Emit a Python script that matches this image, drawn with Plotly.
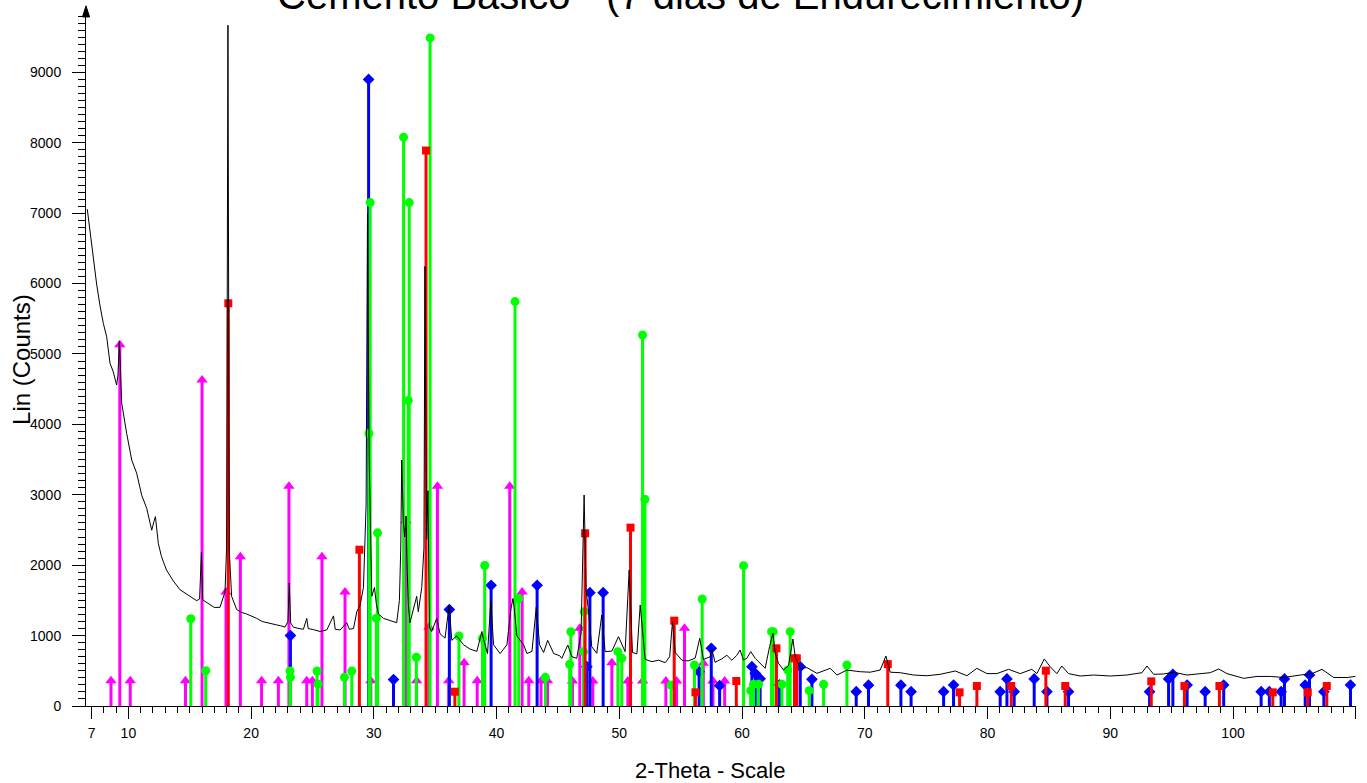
import plotly.graph_objects as go

# ---------------- measured scan (2-theta, counts) ----------------
scan_x = [6.65, 6.87, 7.0, 7.14, 7.41, 7.69, 7.96, 8.23, 8.5, 8.77, 9.04, 9.15, 9.26, 9.35, 9.45,
          9.86, 10.27, 10.67, 11.08, 11.49, 11.9, 12.08, 12.2, 12.44, 12.7, 13.1, 13.66, 14.2, 14.6,
          15.02, 15.56, 15.8, 15.95, 16.05, 16.16, 16.65, 17.0, 17.46, 17.87, 18.0, 18.11, 18.22,
          18.41, 18.82, 19.2, 19.63, 20.0, 20.45, 20.9, 21.26, 21.7, 22.08, 22.4, 22.76, 23.0, 23.11,
          23.22, 23.44, 23.9, 24.26, 24.53, 24.65, 25.07, 25.62, 26.16, 26.71, 26.85, 27.25, 27.79,
          28.0, 28.34, 28.61, 28.88, 29.15, 29.37, 29.48, 29.62, 29.83, 30.05, 30.2, 30.37, 30.78,
          31.32, 31.86, 32.08, 32.19, 32.27, 32.4, 32.51, 32.62, 32.72, 32.81, 32.94, 33.22, 33.49,
          33.62, 33.9, 34.08, 34.16, 34.3, 34.41, 34.52, 34.71, 35.12, 35.39, 35.8, 36.13, 36.35,
          36.75, 37.3, 37.84, 38.39, 38.8, 38.93, 39.26, 39.53, 39.75, 40.29, 40.84, 41.16, 41.33,
          41.43, 41.65, 41.92, 42.2, 42.47, 42.88, 43.23, 43.5, 43.83, 44.16, 44.65, 45.14, 45.31,
          45.8, 46.13, 46.53, 46.88, 47.13, 47.29, 47.48, 47.75, 48.16, 48.57, 48.84, 49.39, 49.93,
          50.47, 50.8, 51.07, 51.43, 51.7, 51.89, 52.1, 52.65, 53.2, 53.74, 54.1, 54.33, 54.55, 55.1,
          55.6, 56.18, 56.55, 56.85, 57.4, 57.55, 57.8, 58.35, 58.76, 59.17, 59.57, 59.84, 60.11,
          60.38, 60.71, 61.07, 61.47, 61.88, 62.24, 62.51, 62.7, 62.97, 63.38, 63.78, 64.14, 64.33,
          64.74, 65.28, 66.1, 67.18, 67.73, 68.54, 69.63, 70.44, 71.25, 71.72, 72.07, 72.88, 73.97,
          75.07, 76.14, 77.37, 78.32, 79.13, 79.95, 80.76, 81.71, 82.66, 83.61, 84.02, 84.62, 85.1,
          85.65, 86.05, 86.6, 87.55, 88.64, 90.0, 91.35, 92.58, 92.99, 93.53, 94.35, 95.16, 96.24,
          97.33, 98.15, 98.83, 99.51, 100.87, 101.96, 103.04, 104.13, 105.49, 106.44, 107.25, 108.2,
          109.29, 109.97]
scan_y = [7057, 6744, 6500, 6370, 5994, 5682, 5432, 5244, 4870, 4745, 4559, 4700, 5182, 4800, 4306,
          3870, 3494, 3308, 2995, 2808, 2497, 2620, 2690, 2307, 2120, 1932, 1776, 1652, 1600,
          1558, 1496, 1520, 2183, 1510, 1496, 1434, 1400, 1402, 1620, 2245, 9670, 2200,
          1558, 1371, 1330, 1307, 1280, 1245, 1200, 1183, 1160, 1152, 1140, 1120, 1200, 1745,
          1180, 1120, 1100, 1090, 1245, 1100, 1085, 1058, 1080, 1280, 1090, 1080, 1183,
          1090, 1100, 1340, 1434, 1683, 2870, 6994, 3494, 1558, 1683, 1450, 1307, 1245,
          1214, 1183, 1496, 2244, 3494, 2620, 2400, 2700, 1900, 1434, 1183, 1371, 1558,
          1340, 1683, 2244, 6244, 2370, 3058, 1120, 1058, 1245, 1026, 964, 1434, 933,
          995, 870, 808, 776, 1058, 950, 745, 1496, 870, 745, 870, 1371, 1527,
          1400, 995, 933, 870, 745, 776, 1402, 870, 760, 933, 745, 714, 677,
          866, 700, 677, 1032, 2997, 1648, 1364, 843, 748, 1293, 772, 780, 985,
          772, 1932, 760, 740, 1435, 1080, 663, 630, 650, 616, 700, 1198, 760, 650,
          640, 680, 961, 660, 700, 795, 620, 670, 720, 650, 720, 795, 653,
          677, 772, 677, 606, 535, 843, 1032, 748, 606, 511, 570, 952, 700,
          535, 545, 464, 535, 440, 510, 487, 480, 511, 710, 480, 473, 440,
          430, 450, 497, 430, 535, 460, 460, 521, 460, 521, 460, 668, 559,
          460, 568, 460, 426, 440, 426, 440, 473, 568, 450, 455, 480, 440,
          460, 473, 526, 460, 393, 420, 420, 405, 440, 460, 521, 405,
          405, 420]

# ---------------- reference phase sticks ----------------
magenta_x = [8.58, 9.3, 10.15, 14.65, 16.0, 17.95, 19.12, 20.85, 22.22, 23.08, 24.53, 24.99, 25.77,
             27.65, 29.75, 32.64, 33.48, 34.48, 35.18, 36.1, 37.35, 38.42, 41.07, 42.08, 42.62,
             43.62, 44.15, 46.18, 46.78, 47.84, 49.39, 50.69, 51.9, 53.79, 54.66, 55.31, 56.84,
             57.63, 58.58]
magenta_y = [360, 5130, 360, 360, 4630, 1620, 2120, 360, 360, 3120, 360, 360, 2120,
             1620, 360, 2630, 360, 1120, 3120, 360, 615, 360, 3120, 1620, 360,
             360, 360, 355, 1103, 355, 616, 355, 355, 355, 355, 1103, 606,
             355, 355]

green_x = [15.08, 16.3, 23.17, 23.2, 25.37, 25.45, 27.6, 28.2, 29.6, 29.7, 30.2, 30.3, 32.42, 32.8,
           32.88, 33.46, 34.58, 36.93, 38.85, 39.03, 41.5, 41.8, 43.97, 45.95, 46.05, 47.08, 47.13,
           49.88, 50.2, 51.89, 52.08, 54.22, 56.12, 56.75, 60.12, 60.7, 60.93, 61.34, 62.4, 62.53,
           63.24, 63.72, 63.92, 65.47, 66.64, 68.54]
green_y = [1240, 500, 497, 407, 497, 310, 407, 497, 3870, 7150, 1245, 2460, 8080, 4340,
           7150, 692, 9490, 994, 960, 1996, 5744, 1527, 407, 592, 1055, 772, 1340,
           772, 677, 5270, 2936, 298, 582, 1520, 1993, 218, 308, 308, 1056, 1056,
           308, 511, 1056, 218, 308, 582]

blue_x = [23.2, 29.57, 31.6, 36.15, 39.55, 43.3, 47.35, 47.6, 48.68, 56.5, 57.49, 58.17, 60.8, 61.07,
          61.47, 63.05, 64.74, 65.69, 69.3, 70.3, 72.94, 73.77, 76.42, 77.23, 81.03, 81.58, 82.17,
          83.8, 84.84, 86.6, 93.2, 94.75, 95.1, 96.26, 97.73, 99.24, 102.29, 102.96, 103.92, 104.19,
          105.88, 106.23, 107.4, 109.57]
blue_y = [1000, 8900, 375, 1370, 1714, 1714, 559, 1610, 1610, 487, 819, 289, 559, 464,
          388, 300, 559, 379, 203, 296, 296, 204, 204, 298, 204, 384, 204,
          384, 204, 204, 204, 384, 450, 298, 204, 298, 204, 204, 204, 384,
          298, 440, 204, 298]

red_x = [18.14, 28.82, 34.25, 36.6, 47.21, 50.91, 54.47, 56.2, 59.53, 62.8, 64.27, 64.46, 71.87,
         77.72, 79.13, 81.93, 84.75, 86.33, 93.34, 96.04, 98.89, 103.24, 106.09, 107.64]
red_y = [5720, 2220, 7890, 203, 2453, 2533, 1212, 194, 355, 819, 677, 677, 595,
         194, 284, 284, 502, 284, 350, 284, 284, 194, 194, 284]

x_ticks = [7, 10, 20, 30, 40, 50, 60, 70, 80, 90, 100, 110]
y_ticks = [0, 1000, 2000, 3000, 4000, 5000, 6000, 7000, 8000, 9000]

title_text = "Cemento Basico - (7 dias de Endurecimiento)"
x_title = "2-Theta - Scale"
y_title = "Lin (Counts)"

FONT = "Liberation Sans, Arial, sans-serif"

fig = go.Figure()


def add_phase(xs, ys, color, symbol, size):
    lx, ly = [], []
    for xv, yv in zip(xs, ys):
        lx += [xv, xv, None]
        ly += [0, yv, None]
    fig.add_trace(go.Scatter(x=lx, y=ly, mode="lines", line=dict(color=color, width=3),
                             hoverinfo="skip", showlegend=False))
    fig.add_trace(go.Scatter(x=xs, y=ys, mode="markers",
                             marker=dict(color=color, symbol=symbol, size=size, line=dict(width=0)),
                             showlegend=False))


add_phase(magenta_x, magenta_y, "#FF00FF", "triangle-up", 10)
add_phase(blue_x, blue_y, "#0000FF", "diamond", 9)
add_phase(green_x, green_y, "#00FF00", "circle", 9)
add_phase(red_x, red_y, "#FF0000", "square", 8)

fig.add_trace(go.Scatter(x=scan_x, y=scan_y, mode="lines", line=dict(color="black", width=1),
                         showlegend=False))

fig.update_layout(
    width=1367, height=783,
    margin=dict(l=86, r=11, t=10, b=77),
    paper_bgcolor="white", plot_bgcolor="white",
    font=dict(family=FONT, color="black", size=13),
    showlegend=False,
)

fig.update_xaxes(
    range=[6.545, 110.02], showgrid=False, zeroline=False, automargin=False,
    showline=True, linecolor="black", linewidth=1,
    tickmode="array", tickvals=x_ticks, ticktext=[str(v) for v in x_ticks],
    ticks="outside", ticklen=12, tickcolor="black", tickwidth=1,
    ticklabelstandoff=2,
    minor=dict(dtick=1, tick0=0, ticks="outside", ticklen=6, tickcolor="black", tickwidth=1),
    tickfont=dict(size=14, family=FONT),
)
fig.update_yaxes(
    range=[0, 9886], showgrid=False, zeroline=False, automargin=False,
    showline=True, linecolor="black", linewidth=1,
    tickmode="array", tickvals=y_ticks, ticktext=[str(v) for v in y_ticks],
    ticks="outside", ticklen=13, tickcolor="black", tickwidth=1,
    ticklabelstandoff=8,
    minor=dict(dtick=100, tick0=0, ticks="outside", ticklen=7, tickcolor="black", tickwidth=1),
    tickfont=dict(size=14, family=FONT),
)

# arrow head on top of the y axis
fig.add_shape(type="path", xref="paper", yref="paper",
              path="M -0.0028 0.99 L 0 1.006 L 0.0028 0.99 Z",
              fillcolor="black", line=dict(color="black", width=1))

# axis titles
fig.add_annotation(text=x_title, xref="paper", yref="paper", x=0.491, y=-0.092,
                   xanchor="center", yanchor="middle", showarrow=False,
                   font=dict(size=22, family=FONT, color="black"))
fig.add_annotation(text=y_title, xref="paper", yref="paper", x=-0.0504, y=0.4986,
                   xanchor="center", yanchor="middle", showarrow=False, textangle=-90,
                   font=dict(size=24, family=FONT, color="black"))

fig.add_annotation(text=title_text, xref="paper", yref="paper", x=0.468, y=0.987,
                   xanchor="center", yanchor="bottom", showarrow=False,
                   font=dict(size=40, family=FONT, color="black"))

fig.write_html("out.html")
